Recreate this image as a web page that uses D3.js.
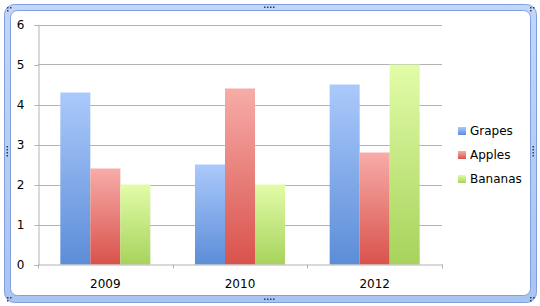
<!DOCTYPE html>
<html><head><meta charset="utf-8">
<script src="https://cdn.jsdelivr.net/npm/d3@7"></script>
<style>html,body{margin:0;padding:0;background:#fff;}svg{display:block;}</style>
</head><body>
<script>
const categories = ["2009", "2010", "2012"];
const seriesNames = ["Grapes", "Apples", "Bananas"];
const grapes = [4.3, 2.5, 4.5];
const apples = [2.4, 4.4, 2.8];
const bananas = [2.0, 2.0, 5.0];
const yTicks = [0, 1, 2, 3, 4, 5, 6];
const seriesValues = [grapes, apples, bananas];
const colorsTop = ["#abc9fb", "#f7aca8", "#e2fca8"];
const colorsBot = ["#5c8dd8", "#d9524c", "#a7d35c"];

(function () {
const W = 540, H = 306;
const svg = d3.select("body").append("svg").attr("width", W).attr("height", H);
const defs = svg.append("defs");
seriesNames.forEach((s, i) => {
  const g = defs.append("linearGradient").attr("id", "grad" + i)
    .attr("x1", 0).attr("y1", 0).attr("x2", 0).attr("y2", 1);
  g.append("stop").attr("offset", "0%").attr("stop-color", colorsTop[i]);
  g.append("stop").attr("offset", "100%").attr("stop-color", colorsBot[i]);
});
const fg = defs.append("linearGradient").attr("id", "frameGrad").attr("x1",0).attr("y1",0).attr("x2",0).attr("y2",1);
fg.append("stop").attr("offset","0%").attr("stop-color","#c3d6f6");
fg.append("stop").attr("offset","100%").attr("stop-color","#aac4f0");

// frame
svg.append("rect").attr("x", 4.5).attr("y", 4.5).attr("width", 532).attr("height", 298)
  .attr("rx", 10).attr("fill", "url(#frameGrad)").attr("stroke", "#7ea0e2").attr("stroke-width", 1);
svg.append("rect").attr("x", 10.5).attr("y", 10.5).attr("width", 520).attr("height", 285)
  .attr("rx", 7).attr("fill", "#fff").attr("stroke", "#7e9fe0").attr("stroke-width", 1);

// handles
function dot(x, y) {
  svg.append("rect").attr("x", x).attr("y", y).attr("width", 1.5).attr("height", 1.5).attr("fill", "#2a3a66");
}
function dots(cx, cy, horiz, n) {
  for (let k = 0; k < n; k++) dot(horiz ? cx + k * 3 : cx, horiz ? cy : cy + k * 3);
}
dots(264, 6.5, true, 4);
dots(264, 298.5, true, 4);
dots(6.5, 146, false, 4);
dots(532.5, 146, false, 4);
[[7,7],[530,7],[7,297],[530,297]].forEach(([px,py]) => { dot(px,py); dot(px+3,py); dot(px,py+3); });

const pLeft = 38, pRight = 442, pTop = 24.5, pBottom = 264.5;
const x = d3.scaleBand().domain(categories).range([pLeft, pRight]).paddingInner(0).paddingOuter(0);
const x1 = d3.scaleBand().domain(seriesNames).range([0, x.bandwidth()]).paddingOuter(0.744).paddingInner(0);
const y = d3.scaleLinear().domain([0, 6]).range([pBottom, pTop]);

const font = "'DejaVu Sans', sans-serif";

// gridlines
svg.append("g").selectAll("line").data(yTicks.filter(d => d > 0)).join("line")
  .attr("x1", pLeft).attr("x2", pRight).attr("y1", d => Math.round(y(d)) + 0.5).attr("y2", d => Math.round(y(d)) + 0.5)
  .attr("stroke", "#b3b3b3").attr("stroke-width", 1);

// y axis
const yAxis = svg.append("g").attr("transform", `translate(${pLeft + 0.5},0.5)`)
  .call(d3.axisLeft(y).tickValues(yTicks).tickSize(4).tickPadding(10).tickFormat(d3.format("d")));
yAxis.select(".domain").attr("stroke", "#b3b3b3");
yAxis.selectAll(".tick line").attr("stroke", "#b3b3b3");
yAxis.selectAll("text").attr("font-family", font).attr("font-size", 12).attr("fill", "#000");

// bars
const groups = svg.append("g").selectAll("g").data(categories).join("g")
  .attr("transform", d => `translate(${x(d)},0)`);
groups.selectAll("rect").data((d, ci) => seriesNames.map((s, si) => ({ s, si, v: seriesValues[si][ci] })))
  .join("rect")
  .attr("x", d => x1(d.s)).attr("width", x1.bandwidth())
  .attr("y", d => y(d.v)).attr("height", d => y(0) - y(d.v))
  .attr("fill", d => `url(#grad${d.si})`);

// x axis
const xAxis = svg.append("g").attr("transform", `translate(0,${pBottom})`)
  .call(d3.axisBottom(x).tickSize(0).tickPadding(15));
xAxis.select(".domain").attr("stroke", "#b3b3b3");
xAxis.selectAll("text").attr("font-family", font).attr("font-size", 12).attr("fill", "#000");
const bounds = categories.map(c => x(c)).concat([pRight]);
svg.append("g").selectAll("line").data(bounds).join("line")
  .attr("x1", d => Math.round(d) + 0.5).attr("x2", d => Math.round(d) + 0.5)
  .attr("y1", pBottom).attr("y2", pBottom + 4).attr("stroke", "#b3b3b3");

// legend
const leg = svg.append("g").selectAll("g").data(seriesNames).join("g")
  .attr("transform", (d, i) => `translate(458,${131 + i * 24})`);
leg.append("rect").attr("x", 0).attr("y", -4).attr("width", 8).attr("height", 8)
  .attr("fill", (d, i) => `url(#grad${i})`);
leg.append("text").attr("x", 12).attr("y", 0).attr("dy", "0.36em")
  .attr("font-family", font).attr("font-size", 12).attr("fill", "#000").text(d => d);
})();
</script>
</body></html>
